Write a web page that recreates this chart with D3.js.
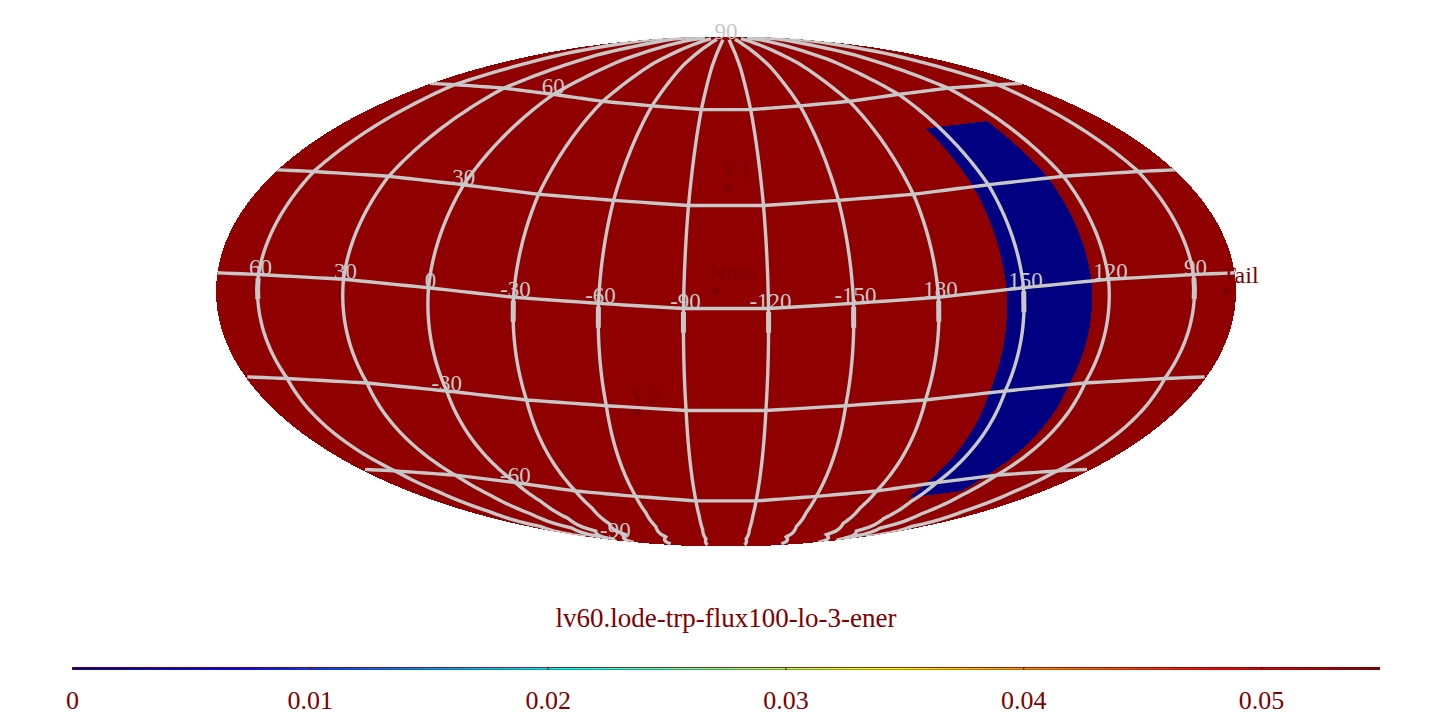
<!DOCTYPE html>
<html><head><meta charset="utf-8">
<style>html,body{margin:0;background:#fff}svg{display:block}text{font-family:"Liberation Serif",serif}</style>
<script src="https://cdn.jsdelivr.net/npm/d3@7/dist/d3.min.js"></script></head>
<body><script>
const title = "lv60.lode-trp-flux100-lo-3-ener";
const centerLon = -105;
const meridians = [60,30,0,-30,-60,-90,-120,-150,180,150,120,90];
const thickMeridians = [60,-30,-60,-90,-120,-150,180,150,90];
const thickLats = [-7,-1];
const parallels = [60,30,0,-30,-60];
const parallelLabels = [[90,90,2],[60,60,0],[30,30,0],[-30,-30,0],[-60,-60,0],[-90,-85,-2]];
const labelLon = 0;
const bandLons = [156,126];
const bandLats = [48.5,-65];
const markers = [["V1",-105.8,30.2,8,-10],["Nose",-101.5,0,17,-11],["V2",-69.7,-35.6,7,-10],["Tail",78.5,0,14,-9]];
const legendTicks = [0,0.01,0.02,0.03,0.04,0.05];
const legendDomain = [0,0.055];
const jetStops = ["#00007f","#0000ff","#007fff","#00ffff","#7fff7f","#ffff00","#ff7f00","#ff0000","#7f0000"];
// distortion of the picture's grid, read from the crossings
const bendLon = [0,15,45,75,105,135,165,180];
const bendShape = [1,1,.7,.34,-.22,-.72,-1,-1.1];
const bendLat = [-90,-85,-60,-30,0,30,60,85,90];
const bendAmp = [0,4,15,16,17,17,12.5,4,0];
const widthLat = [-90,-85,-80,-77.7,-74,-67,-60,-30,0,30,60,75,90];
const widthFac = [2.2,2.1,1.45,1.4,1.25,1.14,1.094,1.026,1,.964,.897,.8,.6];
const southLon = [0,45,75,105,135,165,180];
const southWeight = [1,1,1,.7,.4,.35,.35];

const W=1452,H=728,cx=726,cy=291.5,rx=510,ry=255;
const shapeOf=d3.scaleLinear().domain(bendLon).range(bendShape);
const ampOf=d3.scaleLinear().domain(bendLat).range(bendAmp);
const facOf=d3.scaleLinear().domain(widthLat).range(widthFac);
const southOf=d3.scaleLinear().domain(southLon).range(southWeight);
function theta(phi){let t=phi;if(Math.abs(Math.abs(phi)-Math.PI/2)<1e-6)return phi;
  for(let i=0;i<40;i++){const d=(2*t+Math.sin(2*t)-Math.PI*Math.sin(phi))/(2+2*Math.cos(2*t)+1e-9);t-=d;if(Math.abs(d)<1e-8)break}return t}
const plainRaw=(l,p)=>{const t=theta(p);return [rx*l/Math.PI*Math.cos(t),ry*Math.sin(t)]};
const gridRaw=(l,p)=>{const t=theta(p),deg=180/Math.PI,a=p*deg,ab=Math.abs(l)*deg;
  let f=facOf(a);
  if(a<-60) f=facOf(-60)+(f-facOf(-60))*southOf(ab);
  return [rx*l/Math.PI*Math.cos(t)*f, ry*Math.sin(t)-ampOf(a)*shapeOf(ab)]};
const mk=(raw,ty)=>d3.geoProjection(raw).scale(1).translate([cx,ty]).rotate([-centerLon,0]).reflectX(true).precision(.3);
const plain=mk(plainRaw,cy),grid=mk(gridRaw,cy+ampOf(0)*shapeOf(0));
const svg=d3.select("body").append("svg").attr("width",W).attr("height",H);
const red="#900000",gray="#c8c8c8",textRed="#7f0000";
const sphereD=d3.geoPath(plain)({type:"Sphere"});
svg.append("clipPath").attr("id","globe").append("path").attr("d",sphereD);
svg.append("path").attr("d",sphereD).attr("fill",red).attr("shape-rendering","crispEdges");
// band
const N=60;
const pts=[...d3.range(N+1).map(i=>[bandLons[0],bandLats[0]+(bandLats[1]-bandLats[0])*i/N]),
           ...d3.range(N+1).map(i=>[bandLons[1],bandLats[1]+(bandLats[0]-bandLats[1])*i/N])];
svg.append("path").attr("d",d3.line().x(d=>grid(d)[0]).y(d=>grid(d)[1])(pts)+"Z").attr("fill","#000080").attr("shape-rendering","crispEdges");
// graticule
const gp=d3.geoPath(grid);
const gridG=svg.append("g").attr("fill","none").attr("stroke",gray).attr("stroke-width",3.4).attr("clip-path","url(#globe)");
meridians.forEach(m=>gridG.append("path").attr("d",gp({type:"LineString",coordinates:d3.range(-85,88.01,1).map(a=>[m,a])})));
parallels.forEach(a=>gridG.append("path").attr("d",gp({type:"LineString",coordinates:d3.range(-180,180.01,3).map(l=>[l,a])})));
thickMeridians.forEach(m=>gridG.append("path").attr("stroke-width",5).attr("d",gp({type:"LineString",coordinates:thickLats.map(a=>[m,a])})));
// grid labels
const lab=svg.append("g").attr("fill",gray).attr("font-size",23).attr("text-anchor","middle");
meridians.forEach(m=>{const p=grid([m,0]);lab.append("text").attr("x",p[0]+2).attr("y",p[1]).text(m)});
parallelLabels.forEach(([t,a,dy])=>{const p=grid([labelLon,a]);lab.append("text").attr("x",p[0]).attr("y",p[1]+dy).text(t)});
// markers
const mg=svg.append("g");
markers.forEach(([n,lo,la,dx,dy])=>{const p=plain([lo,la]);
  mg.append("circle").attr("cx",p[0]).attr("cy",p[1]).attr("r",3.5).attr("fill","#7a0000");
  mg.append("text").attr("x",p[0]+dx).attr("y",p[1]+dy).attr("text-anchor","middle").attr("font-size",24).attr("fill","#7c0000").text(n)});
svg.append("text").attr("x",726).attr("y",627).attr("text-anchor","middle").attr("font-size",27).attr("fill",textRed).text(title);
// legend
const lx=d3.scaleLinear().domain(legendDomain).range([72,1380]);
const grad=svg.append("defs").append("linearGradient").attr("id","jet");
jetStops.forEach((c,i)=>grad.append("stop").attr("offset",i/(jetStops.length-1)).attr("stop-color",c));
svg.append("rect").attr("x",lx(0)).attr("y",667).attr("width",lx(legendDomain[1])-lx(0)).attr("height",3).attr("fill","url(#jet)");
svg.append("line").attr("x1",lx(0)).attr("x2",lx(legendDomain[1])).attr("y1",667.5).attr("y2",667.5).attr("stroke",textRed).attr("stroke-opacity",.8);
svg.append("line").attr("x1",lx(0)).attr("x2",lx(legendDomain[1])).attr("y1",669.5).attr("y2",669.5).attr("stroke","#303030").attr("stroke-opacity",.45);
const ax=svg.append("g").attr("transform","translate(0,667)").call(d3.axisBottom(lx).tickValues(legendTicks).tickSize(3).tickPadding(21).tickFormat(d=>String(d)));
ax.select(".domain").remove();
ax.selectAll("line").attr("stroke",textRed);
ax.selectAll("text").attr("font-size",26).attr("font-family","Liberation Serif").attr("fill",textRed);
</script></body></html>
